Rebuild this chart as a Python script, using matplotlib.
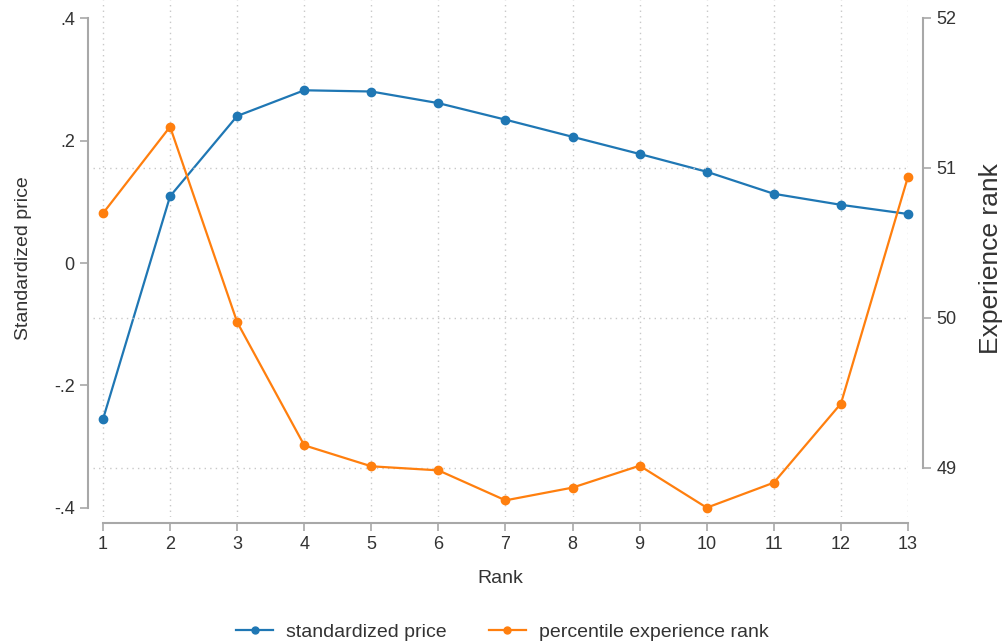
import matplotlib.pyplot as plt
from matplotlib.lines import Line2D

rank = list(range(1, 14))
std_price = [-0.255, 0.109, 0.240, 0.282, 0.280, 0.261, 0.234,
             0.206, 0.178, 0.149, 0.113, 0.095, 0.080]
exp_rank = [50.698, 51.275, 49.972, 49.151, 49.011, 48.984, 48.784,
            48.869, 49.015, 48.735, 48.902, 49.429, 50.942]

left_ticks = [-0.4, -0.2, 0, 0.2, 0.4]
left_labels = ["-.4", "-.2", "0", ".2", ".4"]
right_ticks = [49, 50, 51, 52]

blue = "#1f77b4"
orange = "#ff7f0e"
axis_gray = "#a8a8a8"
text_col = "#333333"

plt.rcParams["font.family"] = ["Liberation Sans", "DejaVu Sans"]

fig = plt.figure(figsize=(10.05, 6.43), dpi=100)
ax = fig.add_axes([93 / 1005, 126 / 643, 815 / 1005, 517 / 643])
ax2 = ax.twinx()

ax.plot(rank, std_price, color=blue, lw=1.6, marker="o", ms=6, clip_on=False, zorder=3)
ax2.plot(rank, exp_rank, color=orange, lw=1.6, marker="o", ms=6, clip_on=False, zorder=3)

ax.set_xlim(0.851, 13.0)
ax.set_ylim(-0.4147, 0.4294)
ax2.set_ylim(48.673, 52.12)

ax.set_xticks(rank)
ax.set_yticks(left_ticks)
ax.set_yticklabels(left_labels)
ax2.set_yticks(right_ticks)

for a in (ax, ax2):
    a.spines["top"].set_visible(False)
    for s in a.spines.values():
        s.set_color(axis_gray)
        s.set_linewidth(1.5)
    a.tick_params(colors=axis_gray, labelcolor=text_col, labelsize=13,
                  length=6, width=1.2)

ax.spines["right"].set_visible(False)
ax2.spines["left"].set_visible(False)
ax2.spines["bottom"].set_visible(False)
ax.spines["left"].set_position(("outward", 3.6))
ax.spines["bottom"].set_position(("outward", 4.3))
ax2.spines["right"].set_position(("outward", 10.8))
ax.spines["left"].set_bounds(-0.4, 0.4)
ax.spines["bottom"].set_bounds(1, 13)
ax2.spines["right"].set_bounds(49, 52)

ax.xaxis.grid(True, linestyle=(0, (1, 3)), color="#c8c8c8", lw=1)
ax2.yaxis.grid(True, linestyle=(0, (1, 3)), color="#c8c8c8", lw=1)
ax2.get_ygridlines()[-1].set_visible(False)
ax.set_axisbelow(True)

ax.set_xlabel("Rank", fontsize=14, color=text_col, labelpad=12)
ax.set_ylabel("Standardized price", fontsize=14, color=text_col, labelpad=16)
ax2.set_ylabel("Experience rank", fontsize=19, color=text_col, labelpad=16)

handles = [
    Line2D([], [], color=blue, lw=1.6, marker="o", ms=5),
    Line2D([], [], color=orange, lw=1.6, marker="o", ms=5),
]
fig.legend(handles, ["standardized price", "percentile experience rank"],
           loc="lower center", bbox_to_anchor=(0.5, -0.024), ncol=2, frameon=False,
           fontsize=14, labelcolor=text_col, columnspacing=2.15,
           handlelength=1.9, handletextpad=0.67)

fig.savefig("out.png", dpi=100)
